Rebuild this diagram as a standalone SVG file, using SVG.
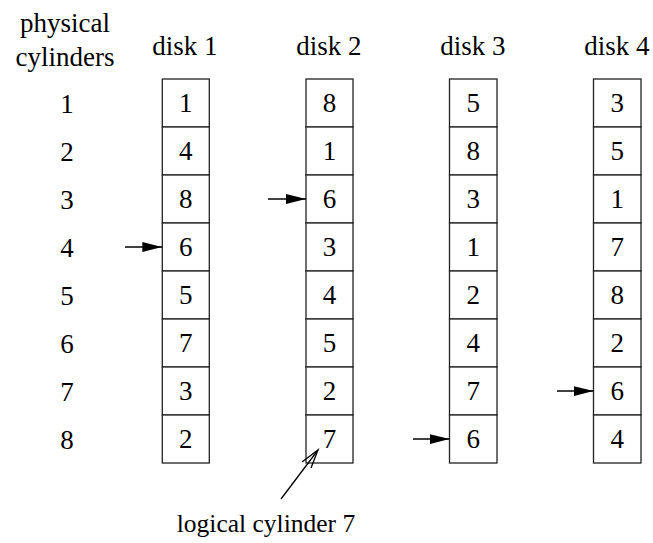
<svg xmlns="http://www.w3.org/2000/svg" width="653" height="543" viewBox="0 0 653 543">
<defs>
<style>
text{font-family:'Liberation Serif','Times New Roman','DejaVu Serif',serif;font-size:27px;fill:#000;text-anchor:middle}
.cell{fill:#fff;stroke:#222;stroke-width:1.3}
.arr{stroke:#000;stroke-width:1.3;fill:none}
</style>
<marker id="tri" viewBox="0 0 20 10" refX="20" refY="5" markerWidth="20" markerHeight="10" markerUnits="userSpaceOnUse" orient="auto">
<path d="M0,0 L20,5 L0,10 Z" fill="#000"/>
</marker>
</defs>
<g id="labels">
<text x="65" y="32">physical</text>
<text x="65" y="66">cylinders</text>
<text x="67" y="113">1</text>
<text x="67" y="161">2</text>
<text x="67" y="209">3</text>
<text x="67" y="257">4</text>
<text x="67" y="305">5</text>
<text x="67" y="353">6</text>
<text x="67" y="401">7</text>
<text x="67" y="449">8</text>
</g>
<g id="disk1">
<text x="185" y="55">disk 1</text>
<rect class="cell" x="162.3" y="79" width="47" height="48"/><text x="185.8" y="112">1</text>
<rect class="cell" x="162.3" y="127" width="47" height="48"/><text x="185.8" y="160">4</text>
<rect class="cell" x="162.3" y="175" width="47" height="48"/><text x="185.8" y="208">8</text>
<rect class="cell" x="162.3" y="223" width="47" height="48"/><text x="185.8" y="256">6</text>
<rect class="cell" x="162.3" y="271" width="47" height="48"/><text x="185.8" y="304">5</text>
<rect class="cell" x="162.3" y="319" width="47" height="48"/><text x="185.8" y="352">7</text>
<rect class="cell" x="162.3" y="367" width="47" height="48"/><text x="185.8" y="400">3</text>
<rect class="cell" x="162.3" y="415" width="47" height="48"/><text x="185.8" y="448">2</text>
</g>
<g id="disk2">
<text x="329" y="55">disk 2</text>
<rect class="cell" x="306" y="79" width="47" height="48"/><text x="329.5" y="112">8</text>
<rect class="cell" x="306" y="127" width="47" height="48"/><text x="329.5" y="160">1</text>
<rect class="cell" x="306" y="175" width="47" height="48"/><text x="329.5" y="208">6</text>
<rect class="cell" x="306" y="223" width="47" height="48"/><text x="329.5" y="256">3</text>
<rect class="cell" x="306" y="271" width="47" height="48"/><text x="329.5" y="304">4</text>
<rect class="cell" x="306" y="319" width="47" height="48"/><text x="329.5" y="352">5</text>
<rect class="cell" x="306" y="367" width="47" height="48"/><text x="329.5" y="400">2</text>
<rect class="cell" x="306" y="415" width="47" height="48"/><text x="329.5" y="448">7</text>
</g>
<g id="disk3">
<text x="473" y="55">disk 3</text>
<rect class="cell" x="449.5" y="79" width="47.5" height="48"/><text x="473.2" y="112">5</text>
<rect class="cell" x="449.5" y="127" width="47.5" height="48"/><text x="473.2" y="160">8</text>
<rect class="cell" x="449.5" y="175" width="47.5" height="48"/><text x="473.2" y="208">3</text>
<rect class="cell" x="449.5" y="223" width="47.5" height="48"/><text x="473.2" y="256">1</text>
<rect class="cell" x="449.5" y="271" width="47.5" height="48"/><text x="473.2" y="304">2</text>
<rect class="cell" x="449.5" y="319" width="47.5" height="48"/><text x="473.2" y="352">4</text>
<rect class="cell" x="449.5" y="367" width="47.5" height="48"/><text x="473.2" y="400">7</text>
<rect class="cell" x="449.5" y="415" width="47.5" height="48"/><text x="473.2" y="448">6</text>
</g>
<g id="disk4">
<text x="617" y="55">disk 4</text>
<rect class="cell" x="593.5" y="79" width="47.5" height="48"/><text x="617.2" y="112">3</text>
<rect class="cell" x="593.5" y="127" width="47.5" height="48"/><text x="617.2" y="160">5</text>
<rect class="cell" x="593.5" y="175" width="47.5" height="48"/><text x="617.2" y="208">1</text>
<rect class="cell" x="593.5" y="223" width="47.5" height="48"/><text x="617.2" y="256">7</text>
<rect class="cell" x="593.5" y="271" width="47.5" height="48"/><text x="617.2" y="304">8</text>
<rect class="cell" x="593.5" y="319" width="47.5" height="48"/><text x="617.2" y="352">2</text>
<rect class="cell" x="593.5" y="367" width="47.5" height="48"/><text x="617.2" y="400">6</text>
<rect class="cell" x="593.5" y="415" width="47.5" height="48"/><text x="617.2" y="448">4</text>
</g>
<g id="caption">
<text x="266" y="532" style="font-size:25.5px">logical cylinder 7</text>
</g>
<g id="connectors">
<line class="arr" x1="125" y1="247" x2="162.3" y2="247" marker-end="url(#tri)"/>
<line class="arr" x1="268" y1="199" x2="306" y2="199" marker-end="url(#tri)"/>
<line class="arr" x1="413" y1="439" x2="449.5" y2="439" marker-end="url(#tri)"/>
<line class="arr" x1="557" y1="391" x2="593.5" y2="391" marker-end="url(#tri)"/>
<line class="arr" x1="281" y1="499" x2="318" y2="450"/>
<path class="arr" d="M302,462 L318,450 L311,468"/>
</g>
</svg>
